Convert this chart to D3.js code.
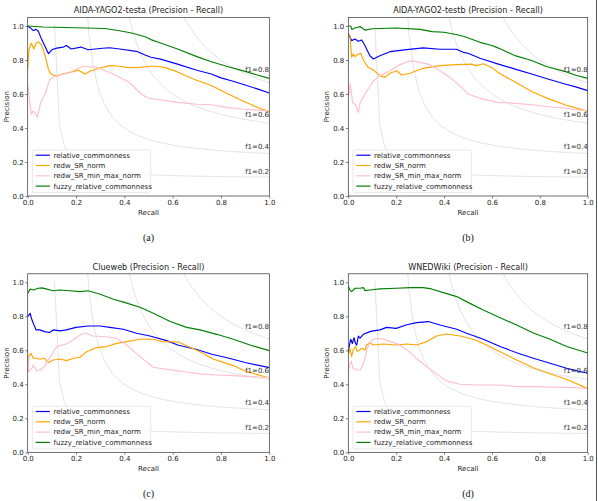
<!DOCTYPE html>
<html>
<head>
<meta charset="utf-8">
<script src="https://cdn.jsdelivr.net/npm/d3@7"></script>
<style>
  body { margin: 0; background: #fff; }
  svg { display: block; font-family: "DejaVu Sans", sans-serif; }
</style>
</head>
<body>
<svg id="chart" width="598" height="501"></svg>
<script>
/*
 * DATA  ([recall, precision] pairs)
 */

var seriesNames = ["relative_commonness", "redw_SR_norm", "redw_SR_min_max_norm", "fuzzy_relative_commonness"];
var seriesColors = ["blue", "orange", "pink", "green"];
var panelTitles = ["AIDA-YAGO2-testa (Precision - Recall)", "AIDA-YAGO2-testb (Precision - Recall)",
                   "Clueweb (Precision - Recall)", "WNEDWiki (Precision - Recall)"];
var panelCaptions = ["(a)", "(b)", "(c)", "(d)"];
var f1Scores = [0.2, 0.4, 0.6, 0.8];
var tickValues = [0, 0.2, 0.4, 0.6, 0.8, 1.0];

var aRelative = [[0,1.0],[0.01,0.99],[0.023,0.973],[0.035,0.98],[0.044,0.969],[0.058,0.92],[0.072,0.88],[0.086,0.837],[0.1,0.86],[0.12,0.87],[0.148,0.876],[0.16,0.885],[0.18,0.865],[0.22,0.876],[0.25,0.86],[0.31,0.869],[0.34,0.872],[0.38,0.865],[0.45,0.851],[0.486,0.829],[0.51,0.816],[0.55,0.805],[0.62,0.776],[0.7,0.74],[0.76,0.718],[0.8,0.695],[0.85,0.675],[0.9,0.653],[0.95,0.63],[1.0,0.606]];
var aNorm = [[0,0.741],[0.005,0.86],[0.015,0.9],[0.025,0.865],[0.035,0.9],[0.044,0.906],[0.054,0.895],[0.065,0.86],[0.073,0.82],[0.085,0.75],[0.093,0.722],[0.107,0.71],[0.12,0.705],[0.134,0.714],[0.155,0.72],[0.175,0.727],[0.21,0.74],[0.237,0.718],[0.26,0.735],[0.285,0.747],[0.34,0.767],[0.37,0.765],[0.41,0.757],[0.45,0.755],[0.51,0.763],[0.53,0.763],[0.57,0.755],[0.62,0.73],[0.69,0.685],[0.76,0.65],[0.83,0.6],[0.9,0.553],[0.95,0.522],[1.0,0.495]];
var aMinMax = [[0,0.657],[0.008,0.56],[0.015,0.48],[0.022,0.5],[0.03,0.49],[0.04,0.463],[0.052,0.541],[0.062,0.575],[0.073,0.6],[0.085,0.66],[0.093,0.688],[0.12,0.708],[0.175,0.727],[0.2,0.745],[0.23,0.763],[0.285,0.757],[0.354,0.718],[0.42,0.669],[0.47,0.6],[0.5,0.575],[0.555,0.565],[0.62,0.551],[0.7,0.54],[0.76,0.537],[0.83,0.52],[0.9,0.51],[1.0,0.5]];
var aFuzzy = [[0,1.0],[0.065,0.994],[0.24,0.988],[0.32,0.985],[0.38,0.972],[0.43,0.959],[0.486,0.937],[0.51,0.92],[0.55,0.9],[0.62,0.865],[0.7,0.82],[0.76,0.79],[0.83,0.76],[0.9,0.733],[0.95,0.712],[1.0,0.692]];

var bRelative = [[0,0.955],[0.014,0.914],[0.028,0.924],[0.042,0.91],[0.056,0.918],[0.07,0.884],[0.09,0.825],[0.105,0.806],[0.132,0.825],[0.174,0.849],[0.244,0.861],[0.313,0.871],[0.383,0.863],[0.452,0.863],[0.48,0.845],[0.5,0.84],[0.55,0.81],[0.627,0.776],[0.7,0.745],[0.766,0.718],[0.83,0.69],[0.905,0.659],[0.95,0.642],[1.0,0.62]];
var bNorm = [[0,0.957],[0.007,0.943],[0.014,0.816],[0.021,0.835],[0.028,0.82],[0.042,0.835],[0.052,0.84],[0.063,0.8],[0.083,0.757],[0.105,0.741],[0.132,0.708],[0.153,0.698],[0.174,0.722],[0.202,0.737],[0.223,0.712],[0.258,0.722],[0.313,0.751],[0.383,0.767],[0.452,0.773],[0.515,0.776],[0.534,0.767],[0.565,0.778],[0.6,0.755],[0.627,0.725],[0.697,0.67],[0.766,0.615],[0.84,0.57],[0.905,0.537],[1.0,0.498]];
var bMinMax = [[0,0.6],[0.004,0.6],[0.008,0.66],[0.018,0.55],[0.028,0.54],[0.035,0.52],[0.042,0.49],[0.05,0.55],[0.07,0.6],[0.105,0.678],[0.132,0.708],[0.174,0.737],[0.216,0.773],[0.258,0.796],[0.3,0.786],[0.341,0.773],[0.383,0.737],[0.424,0.698],[0.466,0.649],[0.5,0.6],[0.557,0.571],[0.627,0.551],[0.697,0.545],[0.766,0.537],[0.836,0.525],[0.905,0.516],[1.0,0.5]];
var bFuzzy = [[0,1.0],[0.01,1.0],[0.015,0.98],[0.03,0.99],[0.05,0.996],[0.07,0.976],[0.1,0.984],[0.2,0.988],[0.3,0.98],[0.35,0.967],[0.4,0.963],[0.45,0.95],[0.487,0.937],[0.55,0.904],[0.6,0.885],[0.627,0.87],[0.7,0.824],[0.766,0.797],[0.83,0.76],[0.905,0.733],[0.95,0.71],[1.0,0.692]];

var cRelative = [[0,0.798],[0.01,0.818],[0.015,0.79],[0.023,0.759],[0.035,0.72],[0.05,0.72],[0.07,0.71],[0.09,0.705],[0.106,0.72],[0.134,0.714],[0.16,0.72],[0.2,0.735],[0.25,0.743],[0.3,0.743],[0.34,0.735],[0.396,0.724],[0.45,0.7],[0.486,0.69],[0.506,0.684],[0.575,0.657],[0.624,0.63],[0.7,0.605],[0.762,0.577],[0.83,0.555],[0.9,0.528],[1.0,0.498]];
var cNorm = [[0,0.475],[0.004,0.563],[0.014,0.582],[0.023,0.553],[0.037,0.553],[0.05,0.547],[0.07,0.553],[0.085,0.527],[0.106,0.543],[0.134,0.549],[0.16,0.539],[0.19,0.553],[0.217,0.559],[0.244,0.592],[0.285,0.616],[0.327,0.622],[0.368,0.641],[0.41,0.651],[0.465,0.665],[0.52,0.665],[0.555,0.651],[0.624,0.649],[0.66,0.625],[0.713,0.592],[0.77,0.547],[0.851,0.51],[0.9,0.478],[1.0,0.437]];
var cMinMax = [[0,0.602],[0.004,0.475],[0.017,0.494],[0.023,0.514],[0.037,0.48],[0.05,0.484],[0.07,0.504],[0.09,0.553],[0.12,0.622],[0.155,0.635],[0.18,0.653],[0.217,0.69],[0.24,0.702],[0.27,0.684],[0.327,0.68],[0.368,0.67],[0.41,0.631],[0.465,0.563],[0.52,0.5],[0.575,0.488],[0.644,0.475],[0.713,0.461],[0.782,0.455],[0.851,0.451],[1.0,0.44]];
var cFuzzy = [[0,0.935],[0.01,0.96],[0.023,0.955],[0.044,0.965],[0.058,0.967],[0.08,0.96],[0.106,0.95],[0.134,0.955],[0.175,0.95],[0.217,0.945],[0.25,0.95],[0.3,0.93],[0.355,0.9],[0.4,0.882],[0.465,0.853],[0.52,0.818],[0.59,0.769],[0.658,0.735],[0.713,0.72],[0.782,0.694],[0.851,0.665],[0.92,0.631],[1.0,0.598]];

var dRelative = [[0,0.586],[0.004,0.625],[0.01,0.665],[0.017,0.64],[0.024,0.674],[0.03,0.64],[0.035,0.631],[0.042,0.684],[0.049,0.671],[0.063,0.694],[0.09,0.71],[0.105,0.714],[0.132,0.72],[0.16,0.735],[0.2,0.729],[0.244,0.75],[0.286,0.763],[0.334,0.769],[0.383,0.749],[0.453,0.724],[0.494,0.7],[0.564,0.665],[0.634,0.622],[0.703,0.586],[0.773,0.553],[0.843,0.524],[0.912,0.494],[1.0,0.465]];
var dNorm = [[0,0.573],[0.007,0.612],[0.014,0.563],[0.02,0.602],[0.03,0.622],[0.038,0.592],[0.056,0.612],[0.07,0.602],[0.077,0.631],[0.09,0.645],[0.104,0.631],[0.146,0.637],[0.2,0.631],[0.244,0.637],[0.286,0.631],[0.327,0.651],[0.369,0.684],[0.41,0.696],[0.467,0.684],[0.522,0.665],[0.578,0.631],[0.634,0.592],[0.703,0.543],[0.773,0.497],[0.843,0.462],[0.912,0.428],[1.0,0.376]];
var dMinMax = [[0,0.484],[0.007,0.514],[0.012,0.537],[0.02,0.494],[0.035,0.484],[0.049,0.484],[0.063,0.52],[0.077,0.6],[0.09,0.651],[0.111,0.668],[0.146,0.667],[0.174,0.651],[0.2,0.641],[0.244,0.605],[0.286,0.55],[0.327,0.505],[0.369,0.46],[0.41,0.42],[0.467,0.4],[0.536,0.396],[0.634,0.396],[0.703,0.386],[0.773,0.386],[0.912,0.382],[1.0,0.376]];
var dFuzzy = [[0,0.978],[0.007,0.955],[0.014,0.945],[0.028,0.965],[0.049,0.965],[0.063,0.969],[0.07,0.951],[0.09,0.955],[0.132,0.961],[0.2,0.965],[0.258,0.969],[0.313,0.969],[0.348,0.961],[0.397,0.939],[0.453,0.916],[0.508,0.876],[0.564,0.837],[0.634,0.792],[0.703,0.749],[0.773,0.702],[0.843,0.665],[0.912,0.622],[1.0,0.584]];

var panelSeries = [
  [aRelative, aNorm, aMinMax, aFuzzy],
  [bRelative, bNorm, bMinMax, bFuzzy],
  [cRelative, cNorm, cMinMax, cFuzzy],
  [dRelative, dNorm, dMinMax, dFuzzy]
];

/*
 * LAYOUT
 */

// axes boxes: [left, right, bottom(y=0)]
var panelBoxes = [
  [27.7, 269.3, 196],
  [348.3, 587.7, 196],
  [27.7, 269.3, 452.3],
  [348.3, 587.7, 452.3]
];
var unitHeight = 170;   // pixels for precision 0 -> 1
var smallFont = 7;
var titleFont = 8.1;

var svg = d3.select('#chart');

svg.append('rect').attr('width', 598).attr('height', 501).attr('fill', '#fff');

// iso-f1 curve sample points (same sampling as the usual matplotlib recipe)
var isoX = d3.range(50).map(function (i) { return 0.01 + i * 0.99 / 49; });

function drawPanel(idx) {
  var box = panelBoxes[idx];
  var x = d3.scaleLinear().domain([0, 1]).range([box[0], box[1]]);
  var y = d3.scaleLinear().domain([0, 1.05]).range([box[2], box[2] - 1.05 * unitHeight]);
  var g = svg.append('g');
  var cx = (box[0] + box[1]) / 2;

  var clipId = 'clip' + idx;
  g.append('clipPath').attr('id', clipId)
    .append('rect')
    .attr('x', x(0)).attr('y', y(1.05))
    .attr('width', x(1) - x(0)).attr('height', y(0) - y(1.05));

  var plot = g.append('g').attr('clip-path', 'url(#' + clipId + ')');

  // iso f1 curves
  f1Scores.forEach(function (f) {
    var pts = isoX.map(function (r) { return [r, f * r / (2 * r - f)]; })
      .filter(function (p) { return p[1] >= 0; });
    plot.append('path')
      .attr('d', d3.line().x(function (d) { return x(d[0]); }).y(function (d) { return y(d[1]); })(pts))
      .attr('fill', 'none')
      .attr('stroke', '#e0e0e0')
      .attr('stroke-width', 0.9);
    var ly = f * isoX[45] / (2 * isoX[45] - f) + 0.02;
    g.append('text')
      .attr('x', x(0.9)).attr('y', y(ly))
      .attr('font-size', smallFont).attr('fill', '#333')
      .text('f1=' + f.toFixed(1));
  });

  // series lines
  var line = d3.line().x(function (d) { return x(d[0]); }).y(function (d) { return y(d[1]); });
  panelSeries[idx].forEach(function (s, i) {
    plot.append('path')
      .attr('d', line(s))
      .attr('fill', 'none')
      .attr('stroke', seriesColors[i])
      .attr('stroke-width', 1.15)
      .attr('stroke-linejoin', 'round');
  });

  // axes
  var xAxis = d3.axisBottom(x).tickValues(tickValues).tickSize(2.5).tickPadding(1.5)
    .tickFormat(d3.format('.1f'));
  var yAxis = d3.axisLeft(y).tickValues(tickValues).tickSize(2.5).tickPadding(1.5)
    .tickFormat(d3.format('.1f'));

  var gx = g.append('g').attr('transform', 'translate(0,' + y(0) + ')').call(xAxis);
  var gy = g.append('g').attr('transform', 'translate(' + x(0) + ',0)').call(yAxis);
  [gx, gy].forEach(function (a) {
    a.select('.domain').remove();
    a.selectAll('line').attr('stroke', '#333').attr('stroke-width', 0.6);
    a.selectAll('text').attr('font-size', smallFont).attr('fill', '#222')
      .attr('font-family', '"DejaVu Sans", sans-serif');
  });

  g.append('rect')
    .attr('x', x(0)).attr('y', y(1.05))
    .attr('width', x(1) - x(0)).attr('height', y(0) - y(1.05))
    .attr('fill', 'none').attr('stroke', '#333').attr('stroke-width', 0.7);

  // titles
  g.append('text').attr('x', cx).attr('y', y(1.05) - 4.3)
    .attr('text-anchor', 'middle').attr('font-size', titleFont).attr('fill', '#222')
    .text(panelTitles[idx]);
  g.append('text').attr('x', cx).attr('y', y(0) + 18.8)
    .attr('text-anchor', 'middle').attr('font-size', smallFont).attr('fill', '#222')
    .text('Recall');
  var pyc = (y(0) + y(1.05)) / 2;
  g.append('text')
    .attr('transform', 'translate(' + (box[0] - 19) + ',' + pyc + ') rotate(-90)')
    .attr('text-anchor', 'middle').attr('font-size', smallFont).attr('fill', '#222')
    .text('Precision');

  // legend
  var lg = g.append('g').attr('transform', 'translate(' + (x(0) + 4.6) + ',' + (y(0) - 46) + ')');
  lg.append('rect').attr('width', 118.4).attr('height', 42.6).attr('rx', 1.5)
    .attr('fill', '#fff').attr('fill-opacity', 0.85)
    .attr('stroke', '#d6d6d6').attr('stroke-width', 0.6);
  seriesNames.forEach(function (name, i) {
    var ry = 5.2 + i * 10.3;
    lg.append('line').attr('x1', 3.4).attr('x2', 17.6).attr('y1', ry).attr('y2', ry)
      .attr('stroke', seriesColors[i]).attr('stroke-width', 1.2);
    lg.append('text').attr('x', 21.2).attr('y', ry + 2.4)
      .attr('font-size', smallFont).attr('fill', '#222').text(name);
  });

  // caption
  g.append('text').attr('x', cx).attr('y', y(0) + 44.5)
    .attr('text-anchor', 'middle').attr('font-size', 10)
    .attr('font-family', '"Liberation Serif", serif').attr('fill', '#111')
    .text(panelCaptions[idx]);
}

[0, 1, 2, 3].forEach(drawPanel);

// thin frame edge on the right of the page
svg.append('line').attr('x1', 596.5).attr('x2', 596.5).attr('y1', 0).attr('y2', 501)
  .attr('stroke', '#555').attr('stroke-width', 1);
</script>
</body>
</html>
